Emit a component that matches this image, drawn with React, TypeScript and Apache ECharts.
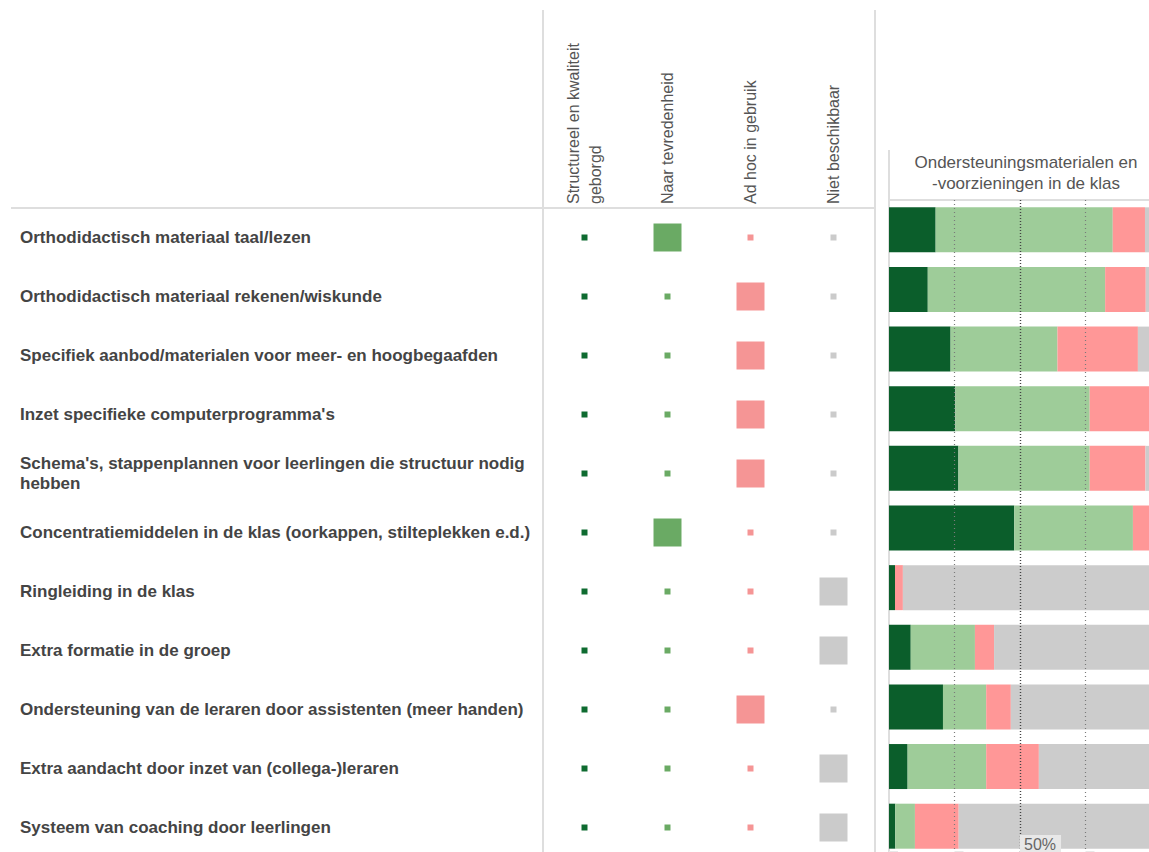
import React, { useEffect, useRef } from "react";
import * as echarts from "echarts";

const FONT = 'Arial, "Liberation Sans", sans-serif';

const categories = [
  "Orthodidactisch materiaal taal/lezen",
  "Orthodidactisch materiaal rekenen/wiskunde",
  "Specifiek aanbod/materialen voor meer- en hoogbegaafden",
  "Inzet specifieke computerprogramma's",
  "Schema's, stappenplannen voor leerlingen die structuur nodig hebben",
  "Concentratiemiddelen in de klas (oorkappen, stilteplekken e.d.)",
  "Ringleiding in de klas",
  "Extra formatie in de groep",
  "Ondersteuning van de leraren door assistenten (meer handen)",
  "Extra aandacht door inzet van (collega-)leraren",
  "Systeem van coaching door leerlingen",
];

const columnHeaders = [
  "Structureel en kwaliteit\ngeborgd",
  "Naar tevredenheid",
  "Ad hoc in gebruik",
  "Niet beschikbaar",
];

const seriesNames = [
  "Structureel en kwaliteit geborgd",
  "Naar tevredenheid",
  "Ad hoc in gebruik",
  "Niet beschikbaar",
];

// percentages per row (stacked to 100%)
const structureel = [17.8, 14.8, 23.5, 25.3, 26.5, 47.8, 2.3, 8.3, 20.6, 7.1, 2.4];
const tevredenheid = [67.6, 67.7, 40.8, 51.3, 50.1, 45.3, 0, 24.5, 16.5, 30.0, 7.5];
const adHoc = [12.3, 15.5, 30.7, 23.4, 21.3, 6.9, 3.0, 7.3, 9.4, 20.1, 16.7];
const nietBeschikbaar = [2.3, 2.0, 5.0, 0, 2.1, 0, 94.7, 59.9, 53.5, 42.8, 73.4];

// which column gets the large square in each row
const highlightColumn = [1, 2, 2, 2, 2, 1, 3, 3, 2, 3, 3];

const barColors = ["#0b5e2b", "#9ecc99", "#ff9797", "#cccccc"];
const squareColors = ["#0e6b30", "#6aaa64", "#f59595", "#cbcbcb"];
const BIG = 28;
const SMALL = 6;

export default function App() {
  const ref = useRef<HTMLDivElement>(null);

  useEffect(() => {
    if (!ref.current) return;
    const chart = echarts.init(ref.current, null, { renderer: "svg" });

    const barData = [structureel, tevredenheid, adHoc, nietBeschikbaar];

    const squareSeries = seriesNames.map((name, c) => ({
      type: "scatter",
      name,
      xAxisIndex: 0,
      yAxisIndex: 0,
      symbol: "rect",
      symbolSize: (v: number[]) => v[2],
      itemStyle: { color: squareColors[c], opacity: 1 },
      silent: true,
      data: categories.map((_, r) => [c, r, highlightColumn[r] === c ? BIG : SMALL]),
    }));

    const barSeries = seriesNames.map((name, c) => ({
      type: "bar",
      name,
      stack: "total",
      xAxisIndex: 1,
      yAxisIndex: 1,
      barWidth: 45,
      itemStyle: { color: barColors[c] },
      silent: true,
      data: barData[c],
      ...(c === 3
        ? {
            markLine: {
              silent: true,
              z: 10,
              symbol: ["none", "none"],
              label: { show: false },
              data: [
                { xAxis: 25, lineStyle: { color: "#7a7a7a", type: [1, 3], width: 1.2 } },
                { xAxis: 50, lineStyle: { color: "#444", type: [1, 2], width: 1.4 } },
                { xAxis: 75, lineStyle: { color: "#7a7a7a", type: [1, 3], width: 1.2 } },
              ],
            },
          }
        : {}),
    }));

    const lineStyle = { stroke: "#dedede", lineWidth: 2 };

    chart.setOption({
      animation: false,
      grid: [
        { left: 543, top: 208, width: 332, height: 649, outerBoundsMode: "none", containLabel: false },
        { left: 889, top: 200, width: 262, height: 656, outerBoundsMode: "none", containLabel: false },
      ],
      xAxis: [
        {
          gridIndex: 0,
          type: "category",
          data: columnHeaders,
          position: "top",
          axisLine: { show: false },
          axisTick: { show: false },
          splitLine: { show: false },
          axisLabel: {
            rotate: -90,
            interval: 0,
            margin: 4,
            fontSize: 16,
            lineHeight: 22,
            color: "#555",
            fontFamily: FONT,
          },
        },
        {
          gridIndex: 1,
          type: "value",
          min: 0,
          max: 100,
          interval: 25,
          z: 20,
          axisLine: { show: false },
          axisTick: { show: false },
          splitLine: { show: false },
          axisLabel: {
            inside: true,
            margin: 4,
            align: "left",
            verticalAlign: "bottom",
            formatter: (v: number) => (v === 50 ? "50%" : ""),
            fontSize: 16,
            color: "#666",
            fontFamily: FONT,
            backgroundColor: "#e8e8e8",
            padding: [1, 5, 0, 4],
          },
        },
      ],
      yAxis: [
        {
          gridIndex: 0,
          type: "category",
          data: categories,
          inverse: true,
          axisLine: { show: false },
          axisTick: { show: false },
          splitLine: { show: false },
          axisLabel: {
            margin: 523,
            align: "left",
            fontSize: 17,
            fontWeight: "bold",
            color: "#444",
            fontFamily: FONT,
            width: 535,
            overflow: "break",
            lineHeight: 20,
          },
        },
        {
          gridIndex: 1,
          type: "category",
          data: categories,
          inverse: true,
          show: false,
        },
      ],
      graphic: [
        { type: "line", silent: true, shape: { x1: 543, y1: 10, x2: 543, y2: 852 }, style: lineStyle },
        { type: "line", silent: true, shape: { x1: 875, y1: 10, x2: 875, y2: 852 }, style: lineStyle },
        { type: "line", silent: true, shape: { x1: 11, y1: 208, x2: 875, y2: 208 }, style: lineStyle },
        { type: "line", silent: true, shape: { x1: 889, y1: 150, x2: 889, y2: 852 }, style: lineStyle },
        { type: "line", silent: true, shape: { x1: 889, y1: 200, x2: 1149, y2: 200 }, style: lineStyle },
        {
          type: "text",
          silent: true,
          x: 1026,
          y: 152,
          style: {
            text: "Ondersteuningsmaterialen en\n-voorzieningen in de klas",
            fontSize: 17,
            fontFamily: FONT,
            fill: "#555",
            align: "center",
            verticalAlign: "top",
            lineHeight: 21,
          },
        },
      ],
      series: [...squareSeries, ...barSeries],
    });

    return () => chart.dispose();
  }, []);

  return (
    <div
      ref={ref}
      style={{ position: "absolute", left: 0, top: 0, width: 1149, height: 852, background: "#fff" }}
    />
  );
}
